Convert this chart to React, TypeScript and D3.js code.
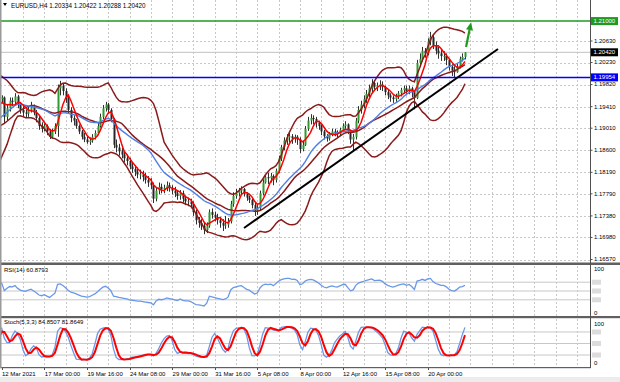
import React from 'react';
import * as d3 from 'd3';

const W = 620;
const H = 382;

// ---- warm-up H4 bars before the first visible bar (8 Mar 00:00 .. 12 Mar 04:00), used by the indicators
const warmClose = [1.1875, 1.1862, 1.1850, 1.1842, 1.1848, 1.1845, 1.1840, 1.1850, 1.1858, 1.1855, 1.1868, 1.1880, 1.1905, 1.1930, 1.1945, 1.1955, 1.1960, 1.1955, 1.1948, 1.1942, 1.1932, 1.1928, 1.1935, 1.1945, 1.1950, 1.1955];
const warmHigh = [1.1890, 1.1880, 1.1866, 1.1856, 1.1855, 1.1856, 1.1850, 1.1856, 1.1865, 1.1864, 1.1872, 1.1886, 1.1910, 1.1936, 1.1952, 1.1962, 1.1968, 1.1965, 1.1960, 1.1952, 1.1946, 1.1938, 1.1940, 1.1948, 1.1954, 1.1958];
const warmLow = [1.1868, 1.1855, 1.1843, 1.1835, 1.1836, 1.1838, 1.1832, 1.1836, 1.1845, 1.1848, 1.1850, 1.1862, 1.1875, 1.1900, 1.1925, 1.1940, 1.1948, 1.1948, 1.1942, 1.1936, 1.1926, 1.1920, 1.1924, 1.1932, 1.1940, 1.1944];

// ---- visible H4 bars, 12 Mar 08:00 .. 22 Apr 08:00
const close = [
  1.1958, 1.1922, 1.1938, 1.1952, 1.1950, 1.1960, 1.1945, 1.1935, 1.1930, 1.1928,
  1.1935, 1.1940, 1.1930, 1.1920, 1.1905, 1.1900, 1.1905, 1.1895, 1.1885, 1.1895,
  1.1905, 1.1975, 1.1980, 1.1970, 1.1955, 1.1935, 1.1920, 1.1915, 1.1905, 1.1895,
  1.1885, 1.1880, 1.1875, 1.1878, 1.1885, 1.1892, 1.1905, 1.1922, 1.1938, 1.1945,
  1.1935, 1.1918, 1.1870, 1.1865, 1.1858, 1.1852, 1.1845, 1.1840, 1.1830, 1.1825,
  1.1820, 1.1815, 1.1815, 1.1810, 1.1805, 1.1800, 1.1795, 1.1770, 1.1785, 1.1792,
  1.1788, 1.1790, 1.1795, 1.1790, 1.1785, 1.1780, 1.1775, 1.1780, 1.1770, 1.1765,
  1.1765, 1.1760, 1.1745, 1.1730, 1.1725, 1.1720, 1.1712, 1.1720, 1.1745, 1.1740,
  1.1735, 1.1730, 1.1725, 1.1720, 1.1722, 1.1728, 1.1760, 1.1775, 1.1780, 1.1785,
  1.1788, 1.1780, 1.1772, 1.1768, 1.1758, 1.1748, 1.1752, 1.1780, 1.1800, 1.1810,
  1.1808, 1.1812, 1.1805, 1.1822, 1.1845, 1.1866, 1.1878, 1.1884, 1.1886, 1.1882,
  1.1885, 1.1880, 1.1862, 1.1870, 1.1900, 1.1915, 1.1920, 1.1918, 1.1912, 1.1905,
  1.1895, 1.1886, 1.1882, 1.1890, 1.1895, 1.1892, 1.1890, 1.1898, 1.1905, 1.1908,
  1.1895, 1.1880, 1.1885, 1.1915, 1.1935, 1.1945, 1.1955, 1.1965, 1.1975, 1.1985,
  1.1978, 1.1980, 1.1982, 1.1978, 1.1968, 1.1962, 1.1958, 1.1955, 1.1960, 1.1966,
  1.1972, 1.1975, 1.1970, 1.1975, 1.1968, 1.1957, 1.2022, 1.2030, 1.2045, 1.2040,
  1.2062, 1.2070, 1.2055, 1.2045, 1.2040, 1.2035, 1.2035, 1.2028, 1.2015, 1.2008,
  1.2005, 1.2015, 1.2030, 1.20334, 1.20420,
];
const high = [
  1.1962, 1.1960, 1.1944, 1.1958, 1.1958, 1.1966, 1.1963, 1.1950, 1.1942, 1.1936,
  1.1942, 1.1950, 1.1945, 1.1935, 1.1925, 1.1912, 1.1910, 1.1908, 1.1900, 1.1900,
  1.1910, 1.1982, 1.1989, 1.1985, 1.1975, 1.1960, 1.1940, 1.1925, 1.1918, 1.1908,
  1.1898, 1.1892, 1.1886, 1.1884, 1.1890, 1.1897, 1.1910, 1.1928, 1.1944, 1.1950,
  1.1948, 1.1938, 1.1920, 1.1880, 1.1872, 1.1864, 1.1858, 1.1852, 1.1846, 1.1838,
  1.1832, 1.1828, 1.1824, 1.1822, 1.1818, 1.1812, 1.1808, 1.1800, 1.1790, 1.1800,
  1.1798, 1.1796, 1.1802, 1.1800, 1.1795, 1.1792, 1.1786, 1.1786, 1.1785, 1.1776,
  1.1772, 1.1770, 1.1765, 1.1750, 1.1736, 1.1732, 1.1726, 1.1726, 1.1750, 1.1752,
  1.1746, 1.1742, 1.1736, 1.1732, 1.1738, 1.1734, 1.1766, 1.1782, 1.1788, 1.1790,
  1.1793, 1.1790, 1.1782, 1.1776, 1.1770, 1.1762, 1.1758, 1.1785, 1.1806, 1.1816,
  1.1818, 1.1818, 1.1815, 1.1826, 1.1850, 1.1870, 1.1884, 1.1890, 1.1892, 1.1890,
  1.1889, 1.1888, 1.1884, 1.1878, 1.1905, 1.1922, 1.1927, 1.1925, 1.1922, 1.1915,
  1.1908, 1.1898, 1.1890, 1.1894, 1.1900, 1.1900, 1.1897, 1.1902, 1.1910, 1.1914,
  1.1910, 1.1898, 1.1890, 1.1920, 1.1942, 1.1952, 1.1962, 1.1972, 1.1982, 1.1992,
  1.1990, 1.1986, 1.1990, 1.1988, 1.1980, 1.1972, 1.1966, 1.1962, 1.1965, 1.1970,
  1.1976, 1.1980, 1.1980, 1.1980, 1.1978, 1.1970, 1.2028, 1.2040, 1.2052, 1.2050,
  1.2068, 1.2080, 1.2075, 1.2062, 1.2052, 1.2048, 1.2044, 1.2040, 1.2030, 1.2020,
  1.2016, 1.2022, 1.2034, 1.2040, 1.20422,
];
const low = [
  1.1948, 1.1910, 1.1915, 1.1932, 1.1942, 1.1945, 1.1938, 1.1928, 1.1922, 1.1920,
  1.1922, 1.1930, 1.1925, 1.1912, 1.1898, 1.1893, 1.1895, 1.1888, 1.1881, 1.1882,
  1.1890, 1.1885, 1.1962, 1.1962, 1.1948, 1.1928, 1.1912, 1.1906, 1.1900, 1.1890,
  1.1880, 1.1875, 1.1872, 1.1870, 1.1874, 1.1880, 1.1888, 1.1902, 1.1918, 1.1932,
  1.1928, 1.1912, 1.1864, 1.1856, 1.1850, 1.1845, 1.1838, 1.1832, 1.1825, 1.1818,
  1.1812, 1.1808, 1.1806, 1.1802, 1.1798, 1.1792, 1.1788, 1.1762, 1.1765, 1.1778,
  1.1780, 1.1780, 1.1784, 1.1783, 1.1778, 1.1773, 1.1768, 1.1768, 1.1763, 1.1758,
  1.1756, 1.1752, 1.1738, 1.1722, 1.1716, 1.1712, 1.1704, 1.1706, 1.1716, 1.1733,
  1.1728, 1.1722, 1.1716, 1.1710, 1.1714, 1.1716, 1.1724, 1.1755, 1.1770, 1.1774,
  1.1778, 1.1774, 1.1766, 1.1762, 1.1752, 1.1738, 1.1740, 1.1748, 1.1776, 1.1798,
  1.1797, 1.1800, 1.1795, 1.1800, 1.1818, 1.1840, 1.1860, 1.1870, 1.1874, 1.1872,
  1.1874, 1.1870, 1.1855, 1.1858, 1.1868, 1.1896, 1.1908, 1.1908, 1.1902, 1.1898,
  1.1888, 1.1880, 1.1876, 1.1878, 1.1886, 1.1886, 1.1883, 1.1886, 1.1894, 1.1900,
  1.1890, 1.1872, 1.1860, 1.1880, 1.1910, 1.1928, 1.1938, 1.1948, 1.1958, 1.1968,
  1.1970, 1.1970, 1.1972, 1.1970, 1.1962, 1.1955, 1.1950, 1.1948, 1.1950, 1.1955,
  1.1960, 1.1965, 1.1962, 1.1964, 1.1958, 1.1936, 1.1955, 1.2015, 1.2025, 1.2032,
  1.2036, 1.2055, 1.2048, 1.2038, 1.2030, 1.2026, 1.2026, 1.2018, 1.2008, 1.1998,
  1.1994, 1.2004, 1.2012, 1.2025, 1.20288,
];
const lastOpen = 1.20334;

const priceTicks = [1.20630, 1.20230, 1.19820, 1.19410, 1.19010, 1.18600, 1.18190, 1.17790, 1.17380, 1.16980, 1.16570];
const timeLabelBars = [0, 16, 32, 48, 64, 80, 96, 112, 128, 144, 160];
const timeLabels = ['12 Mar 2021', '17 Mar 00:00', '19 Mar 16:00', '24 Mar 08:00', '29 Mar 00:00', '31 Mar 16:00', '5 Apr 08:00', '8 Apr 00:00', '12 Apr 16:00', '15 Apr 08:00', '20 Apr 00:00'];

const resistance = 1.21000;
const support = 1.19954;
const currentPrice = 1.20420;
const trendBars = [91, 186.4];
const trendPrices = [1.17155, 1.20481];
const arrowBars = [174.4, 176.3];
const arrowPrices = [1.2052, 1.2098];

const rsiLevels = [70, 50, 30];
const stochLevels = [80, 50, 20];
const title = 'EURUSD,H4 1.20334 1.20422 1.20288 1.20420';
const rsiTitle = 'RSI(14) 60.8793';
const stochTitle = 'Stoch(5,3,3) 84.8507 81.8649';

const FONT = 'Liberation Sans, Arial, sans-serif';

export default function App() {
  const N0 = warmClose.length;
  const C = [...warmClose, ...close];
  const Hi = [...warmHigh, ...high];
  const Lo = [...warmLow, ...low];
  const O = C.map((c, k) => (k === 0 ? c : C[k - 1]));
  O[O.length - 1] = lastOpen;
  const n = C.length;

  const sma = (arr: number[], p: number) =>
    arr.map((_, k) => (k < p - 1 ? null : (d3.mean(arr.slice(k - p + 1, k + 1)) as number)));
  const ma5 = sma(C, 5);
  const ma20 = sma(C, 20);
  const bbP = 20;
  const bbMid = sma(C, bbP);
  const bbUp = C.map((_, k) => {
    if (k < bbP - 1) return null;
    const s = C.slice(k - bbP + 1, k + 1);
    const m = d3.mean(s) as number;
    const sd = Math.sqrt(d3.mean(s, (v) => (v - m) * (v - m)) as number);
    return m + 2 * sd;
  });
  const bbDn = bbUp.map((u, k) => (u == null ? null : 2 * (bbMid[k] as number) - u));
  const slowMa = sma(C, 25);

  // RSI(14), Wilder smoothing
  const rsi: (number | null)[] = new Array(n).fill(null);
  {
    const p = 14;
    let ag = 0, al = 0;
    for (let k = 1; k < n; k++) {
      const ch = C[k] - C[k - 1];
      const g = Math.max(ch, 0), l = Math.max(-ch, 0);
      if (k <= p) {
        ag += g / p; al += l / p;
        if (k === p) rsi[k] = al === 0 ? 100 : 100 - 100 / (1 + ag / al);
      } else {
        ag = (ag * (p - 1) + g) / p;
        al = (al * (p - 1) + l) / p;
        rsi[k] = al === 0 ? 100 : 100 - 100 / (1 + ag / al);
      }
    }
  }
  // Stochastic 5,3,3
  const num: number[] = [], den: number[] = [];
  for (let k = 0; k < n; k++) {
    if (k < 4) { num.push(NaN); den.push(NaN); continue; }
    const ll = d3.min(Lo.slice(k - 4, k + 1)) as number;
    const hh = d3.max(Hi.slice(k - 4, k + 1)) as number;
    num.push(C[k] - ll); den.push(hh - ll);
  }
  const stK: (number | null)[] = C.map((_, k) => {
    if (k < 6) return null;
    const a = num[k] + num[k - 1] + num[k - 2];
    const b = den[k] + den[k - 1] + den[k - 2];
    return b === 0 ? 100 : (a / b) * 100;
  });
  const stD: (number | null)[] = stK.map((_, k) =>
    k < 8 || stK[k - 2] == null ? null : ((stK[k] as number) + (stK[k - 1] as number) + (stK[k - 2] as number)) / 3
  );

  const x = d3.scaleLinear().domain([0, 160]).range([1.7, 427.7]);
  const y = d3.scaleLinear().domain([1.1657, 1.2063]).range([259.5, 41]);
  const yR = d3.scaleLinear().domain([0, 100]).range([313, 269]);
  const yS = d3.scaleLinear().domain([0, 100]).range([362.7, 324.3]);
  const xk = (k: number) => x(k - N0);

  const AXX = 590;
  const MAIN_B = 262;

  const mkLine = (vals: (number | null)[], sc: d3.ScaleLinear<number, number>) => {
    const pts: [number, number | null][] = vals.map((v, k) => [k, v]);
    return d3
      .line<[number, number | null]>()
      .defined((d) => d[1] != null && d[0] >= N0 - 2)
      .x((d) => xk(d[0]))
      .y((d) => sc(d[1] as number))(pts) as string;
  };

  const gridBars: number[] = [];
  for (let b = 8; x(b) < AXX; b += 8) gridBars.push(b);

  const candles = [];
  for (let k = N0; k < n; k++) {
    const cx = Math.round(xk(k)) + 0.5;
    const bull = C[k] >= O[k];
    const top = y(Math.max(O[k], C[k]));
    const bot = y(Math.min(O[k], C[k]));
    candles.push(
      <g key={k}>
        <line x1={cx} x2={cx} y1={y(Hi[k])} y2={y(Lo[k])} stroke="#303030" strokeWidth={1} />
        <rect x={cx - 1} y={top} width={2} height={Math.max(bot - top, 0.8)} fill={bull ? '#2f9a2f' : '#262626'} />
      </g>
    );
  }

  const labelBox = (p: number, fill: string, key: string) => (
    <g key={key}>
      <rect x={591} y={y(p) - 4} width={27} height={8} fill={fill} />
      <text x={593.5} y={y(p) + 0.3} fontSize={6} fill="#fff" dominantBaseline="middle" fontFamily={FONT}>
        {p.toFixed(5)}
      </text>
    </g>
  );

  const ax1 = x(arrowBars[0]), ay1 = y(arrowPrices[0]), ax2 = x(arrowBars[1]), ay2 = y(arrowPrices[1]);
  const ang = Math.atan2(ay2 - ay1, ax2 - ax1);
  const hl = 8, hw = 3.5;
  const bx = ax2 - hl * Math.cos(ang), by = ay2 - hl * Math.sin(ang);
  const head = `M${ax2},${ay2} L${bx + hw * Math.sin(ang)},${by - hw * Math.cos(ang)} L${bx - hw * Math.sin(ang)},${by + hw * Math.cos(ang)} Z`;

  return (
    <svg width={W} height={H} style={{ position: 'absolute', left: 0, top: 0, background: '#fff' }} fontFamily={FONT}>
      <defs>
        <clipPath id="cm"><rect x={0} y={0} width={AXX} height={MAIN_B} /></clipPath>
        <clipPath id="cr"><rect x={0} y={265} width={AXX} height={51} /></clipPath>
        <clipPath id="cs"><rect x={0} y={318} width={AXX} height={49} /></clipPath>
      </defs>
      <rect x={0} y={0} width={W} height={H} fill="#fff" />

      {gridBars.map((b) => (
        <g key={'vg' + b} stroke="#c8c8c8" strokeWidth={1} strokeDasharray="2,2">
          <line x1={Math.round(x(b)) + 0.5} x2={Math.round(x(b)) + 0.5} y1={0} y2={MAIN_B} />
          <line x1={Math.round(x(b)) + 0.5} x2={Math.round(x(b)) + 0.5} y1={266} y2={316} />
          <line x1={Math.round(x(b)) + 0.5} x2={Math.round(x(b)) + 0.5} y1={319} y2={367} />
        </g>
      ))}
      {priceTicks.map((p) => (
        <line key={'hg' + p} x1={0} x2={AXX} y1={Math.round(y(p)) + 0.5} y2={Math.round(y(p)) + 0.5} stroke="#c8c8c8" strokeDasharray="2,2" />
      ))}
      <line x1={0} x2={AXX} y1={y(currentPrice)} y2={y(currentPrice)} stroke="#c0c0c0" strokeWidth={1} />

      <g clipPath="url(#cm)">
        {candles}
        <path d={mkLine(bbUp, y)} fill="none" stroke="#8b1a1a" strokeWidth={1.5} />
        <path d={mkLine(bbDn, y)} fill="none" stroke="#8b1a1a" strokeWidth={1.5} />
        <path d={mkLine(slowMa, y)} fill="none" stroke="#8b1a1a" strokeWidth={1.5} />
        <path d={mkLine(ma20, y)} fill="none" stroke="#4f7fe6" strokeWidth={1.4} />
        <path d={mkLine(ma5, y)} fill="none" stroke="#ff0000" strokeWidth={1.5} />
        <line x1={0} x2={AXX} y1={y(resistance)} y2={y(resistance)} stroke="#1f9a1f" strokeWidth={1.5} />
        <line x1={0} x2={AXX} y1={y(support)} y2={y(support)} stroke="#0000ff" strokeWidth={1.5} />
        <line x1={x(trendBars[0])} y1={y(trendPrices[0])} x2={x(trendBars[1])} y2={y(trendPrices[1])} stroke="#000" strokeWidth={2} />
        <line x1={ax1} y1={ay1} x2={bx} y2={by} stroke="#1f9a1f" strokeWidth={2.2} />
        <path d={head} fill="#1f9a1f" />
      </g>

      <path d="M3,3 L7,3 L5,6 Z" fill="#000" />
      <text x={11} y={7.5} fontSize={6.3} fill="#000">{title}</text>

      {rsiLevels.map((l) => (
        <line key={'rl' + l} x1={0} x2={AXX} y1={yR(l)} y2={yR(l)} stroke="#c8c8c8" strokeWidth={1} />
      ))}
      <g clipPath="url(#cr)">
        <path d={mkLine(rsi, yR)} fill="none" stroke="#6a98e8" strokeWidth={1.3} />
      </g>
      <text x={4} y={272} fontSize={6} fill="#000">{rsiTitle}</text>

      {stochLevels.map((l) => (
        <line key={'sl' + l} x1={0} x2={AXX} y1={yS(l)} y2={yS(l)} stroke="#c8c8c8" strokeWidth={1} />
      ))}
      <g clipPath="url(#cs)">
        <path d={mkLine(stK, yS)} fill="none" stroke="#6a98e8" strokeWidth={1.3} />
        <path d={mkLine(stD, yS)} fill="none" stroke="#ff0000" strokeWidth={2} />
      </g>
      <text x={4} y={324} fontSize={6} fill="#000">{stochTitle}</text>

      <rect x={0} y={262.5} width={W} height={2.5} fill="#606060" />
      <rect x={0} y={316} width={W} height={2.2} fill="#606060" />
      <rect x={0} y={367} width={AXX + 1} height={1.2} fill="#606060" />
      <line x1={AXX + 0.5} x2={AXX + 0.5} y1={0} y2={368} stroke="#505050" strokeWidth={1} />
      <rect x={0} y={0} width={1.5} height={368} fill="#9a9a9a" />
      <rect x={0} y={377} width={W} height={5} fill="#ececec" />

      {priceTicks.map((p) => (
        <g key={'pt' + p}>
          <line x1={AXX} x2={AXX + 2.5} y1={y(p)} y2={y(p)} stroke="#505050" />
          <text x={594} y={y(p) + 0.3} fontSize={6} fill="#000" dominantBaseline="middle">{p.toFixed(5)}</text>
        </g>
      ))}
      {labelBox(resistance, '#1f9a1f', 'lr')}
      {labelBox(currentPrice, '#000', 'lc')}
      {labelBox(support, '#0000ff', 'ls')}

      <text x={594} y={yR(100) + 0.3} fontSize={6} dominantBaseline="middle">100</text>
      <text x={594} y={yR(0) + 0.3} fontSize={6} dominantBaseline="middle">0</text>
      {rsiLevels.map((l) => (
        <rect key={'rb' + l} x={592} y={yR(l) - 2.5} width={9} height={5} fill="#dcdcdc" />
      ))}
      <text x={594} y={yS(100) + 0.3} fontSize={6} dominantBaseline="middle">100</text>
      <text x={594} y={yS(0) + 0.3} fontSize={6} dominantBaseline="middle">0</text>
      {stochLevels.map((l) => (
        <rect key={'sb' + l} x={592} y={yS(l) - 2.5} width={9} height={5} fill="#dcdcdc" />
      ))}

      {timeLabelBars.map((b, i) => (
        <g key={'tl' + b}>
          <line x1={Math.round(x(b)) + 0.5} x2={Math.round(x(b)) + 0.5} y1={368} y2={370} stroke="#505050" />
          <text x={x(b) + (i === 0 ? 0.3 : 0.5)} y={375.5} fontSize={6} fill="#000">{timeLabels[i]}</text>
        </g>
      ))}
    </svg>
  );
}
